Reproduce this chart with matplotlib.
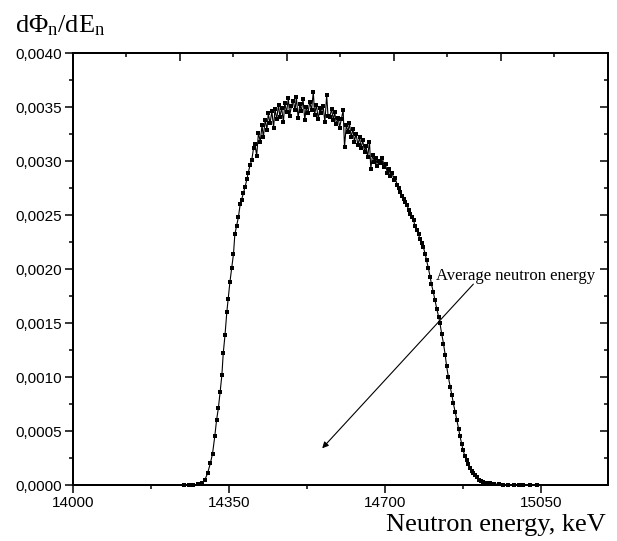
import matplotlib
matplotlib.use("Agg")
import matplotlib.pyplot as plt
from matplotlib.ticker import MultipleLocator, FuncFormatter

# spectrum: energy in keV, dPhi/dE
energy_kev = [
    14250, 14260, 14270, 14280, 14290, 14296, 14302, 14308, 14313, 14318,
    14322, 14326, 14330, 14334, 14337, 14341, 14345, 14348, 14352, 14356,
    14360, 14363, 14367, 14371, 14375, 14378, 14382, 14386, 14390, 14393,
    14397, 14401, 14405, 14408, 14412, 14416, 14420, 14424, 14427, 14431,
    14435, 14438, 14442, 14446, 14450, 14453, 14457, 14461, 14464, 14468,
    14472, 14475, 14479, 14483, 14486, 14490, 14494, 14498, 14501, 14505,
    14509, 14512, 14516, 14520, 14523, 14527, 14531, 14535, 14539, 14542,
    14546, 14550, 14554, 14557, 14561, 14565, 14569, 14572, 14576, 14580,
    14584, 14587, 14591, 14595, 14598, 14602, 14606, 14609, 14613, 14617,
    14620, 14624, 14628, 14631, 14635, 14639, 14643, 14646, 14650, 14654,
    14657, 14661, 14665, 14668, 14672, 14676, 14679, 14683, 14687, 14690,
    14694, 14698, 14701, 14705, 14709, 14712, 14716, 14720, 14723, 14727,
    14731, 14734, 14738, 14742, 14745, 14749, 14753, 14756, 14760, 14764,
    14767, 14771, 14775, 14778, 14782, 14786, 14790, 14793, 14797, 14801,
    14804, 14808, 14812, 14816, 14820, 14823, 14827, 14831, 14835, 14838,
    14842, 14846, 14850, 14853, 14857, 14861, 14865, 14868, 14872, 14875,
    14879, 14883, 14887, 14891, 14895, 14898, 14902, 14906, 14910, 14915,
    14920, 14928, 14935, 14945, 14955, 14965, 14975, 14990, 15000, 15010,
    15025, 15040,
]
flux = [
    0.0, 0.0, 0.0, 0.000005, 0.00002, 0.00005, 0.00011, 0.0002, 0.00029, 0.00045,
    0.0006, 0.00071, 0.00086, 0.00102, 0.00122, 0.00139, 0.0016, 0.00172, 0.00188, 0.00201,
    0.00214, 0.00232, 0.0024, 0.00248, 0.0026, 0.00264, 0.0027, 0.00276, 0.00283, 0.00289,
    0.00296, 0.00301, 0.00312, 0.00316, 0.00305, 0.00326, 0.00318, 0.00333, 0.00322, 0.00338,
    0.00329, 0.00344, 0.00335, 0.00346, 0.00331, 0.00348, 0.00339, 0.00352, 0.00341, 0.00349,
    0.00336, 0.00354, 0.00345, 0.00358, 0.00342, 0.00351, 0.00356, 0.00347, 0.00359, 0.0034,
    0.00353, 0.00346, 0.00357, 0.00338, 0.0035, 0.00344, 0.00355, 0.00347, 0.00364, 0.00343,
    0.00352, 0.00339, 0.00349, 0.00344, 0.00351, 0.00336, 0.00361, 0.00342, 0.00341, 0.00348,
    0.00338, 0.00345, 0.00334, 0.0034, 0.00331, 0.00339, 0.00347, 0.00313, 0.00333, 0.00327,
    0.00335, 0.00322, 0.0033, 0.00318, 0.00325, 0.00315, 0.00322, 0.00312, 0.00319, 0.00308,
    0.00314, 0.00304, 0.00318, 0.00293, 0.00306, 0.00299, 0.00303, 0.00295, 0.003, 0.00298,
    0.00303, 0.00294, 0.00297, 0.00289, 0.00293, 0.00286, 0.00289, 0.00282, 0.00284, 0.00278,
    0.00275, 0.00271, 0.00268, 0.00265, 0.00262, 0.00259, 0.00255, 0.00251, 0.00248, 0.00245,
    0.0024, 0.00236, 0.00232, 0.00228, 0.00224, 0.0022, 0.00214, 0.00208, 0.00201, 0.00193,
    0.00186, 0.00179, 0.00171, 0.00163, 0.00156, 0.0015, 0.0014, 0.00131, 0.0012, 0.0011,
    0.001, 0.00091, 0.00083, 0.00076, 0.00068, 0.0006, 0.00052, 0.00045, 0.00038, 0.00032,
    0.00027, 0.00023, 0.00019, 0.00016, 0.00013, 0.00011, 0.00009, 0.00007, 0.00005, 0.00004,
    0.00003, 0.00002, 0.000015, 0.00001, 0.000006, 0.000004, 0.000002, 0.000001, 0.0, 0.0,
    0.0, 0.0,
]

x_ticks = [14000, 14350, 14700, 15050]
annot_text = "Average neutron energy"
annot_tip = (14559, 0.00034)
annot_tail = (14898, 0.00186)

plt.rcParams["font.family"] = ["Liberation Sans", "DejaVu Sans"]
plt.rcParams["mathtext.fontset"] = "custom"
plt.rcParams["mathtext.rm"] = "Liberation Serif"
plt.rcParams["mathtext.it"] = "Liberation Serif:italic"

fig = plt.figure(figsize=(6.17, 5.41), dpi=100)
ax = fig.add_axes([0.1183, 0.1035, 0.8671, 0.7985])

ax.plot(energy_kev, flux, color="black", lw=0.8, marker="s", ms=2.9,
        markeredgewidth=0, zorder=3, clip_on=False)

ax.set_xlim(14000, 15200)
ax.set_ylim(0, 0.004)
ax.set_xticks(x_ticks)
ax.xaxis.set_minor_locator(MultipleLocator(175))
ax.yaxis.set_major_locator(MultipleLocator(0.0005))
ax.yaxis.set_minor_locator(MultipleLocator(0.00025))
ax.yaxis.set_major_formatter(FuncFormatter(lambda v, p: f"{v:.4f}".replace(".", ",")))
ax.tick_params(which="both", direction="out", width=1.1, labelsize=11, pad=2,
               top=False, right=False)
ax.tick_params(which="major", length=6)
ax.tick_params(which="minor", length=3)
for s in ax.spines.values():
    s.set_linewidth(1.3)

# top and right axes: ticks pointing inward, no labels
top = ax.twiny()
top.set_xlim(0, 1)
top.xaxis.set_major_locator(MultipleLocator(0.2))
top.xaxis.set_minor_locator(MultipleLocator(0.1))
top.tick_params(axis="x", which="both", direction="in", width=1.1, labeltop=False)
top.tick_params(axis="x", which="major", length=6)
top.tick_params(axis="x", which="minor", length=3)

right = ax.twinx()
right.set_ylim(0, 0.004)
right.yaxis.set_major_locator(MultipleLocator(0.0005))
right.yaxis.set_minor_locator(MultipleLocator(0.00025))
right.tick_params(axis="y", which="both", direction="in", width=1.1, labelright=False)
right.tick_params(axis="y", which="major", length=6)
right.tick_params(axis="y", which="minor", length=3)
for a in (top, right):
    for s in a.spines.values():
        s.set_linewidth(1.3)

ax.text(14814, 0.00190, annot_text, fontsize=12, family="Liberation Serif",
        va="baseline", ha="left")
ax.annotate("", xy=annot_tip, xytext=annot_tail,
            arrowprops=dict(arrowstyle="-|>", color="black", lw=0.8,
                            mutation_scale=9, shrinkA=0, shrinkB=0))

fig.text(0.024, 0.941, r"d$\Phi$$_\mathrm{n}$/dE$_\mathrm{n}$", fontsize=19,
         family="Liberation Serif", va="baseline", ha="left")
fig.text(0.982, 0.018, "Neutron energy, keV", fontsize=19,
         family="Liberation Serif", va="baseline", ha="right")

fig.savefig("out.png", dpi=100)
